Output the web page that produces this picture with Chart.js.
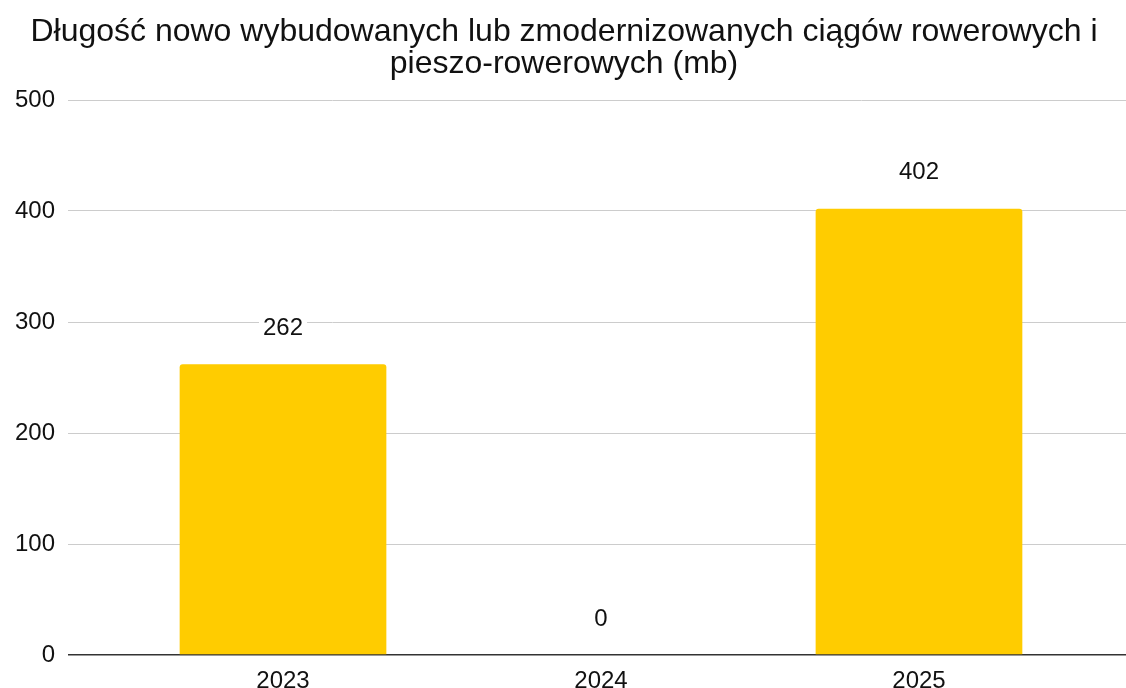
<!DOCTYPE html>
<html>
<head>
<meta charset="utf-8">
<script src="https://cdn.jsdelivr.net/npm/chart.js@4"></script>
<style>
  body { margin: 0; background: #fff; }
  canvas { display: block; }
</style>
</head>
<body>
<canvas id="chart" width="1126" height="688"></canvas>
<script>
// dane wykresu
const years = [2023, 2024, 2025];
const values = [262, 0, 402];
const yTicks = [0, 100, 200, 300, 400, 500];
const titleLines = [
    'Długość nowo wybudowanych lub zmodernizowanych ciągów rowerowych i',
    'pieszo-rowerowych (mb)'
];

const FONT = '"Liberation Sans", Arial, sans-serif';

// etykiety wartości nad słupkami (z białym tłem)
const valueLabels = {
    id: 'valueLabels',
    afterDatasetsDraw(chart) {
        const ctx = chart.ctx;
        const meta = chart.getDatasetMeta(0);
        ctx.save();
        ctx.font = '24px ' + FONT;
        ctx.textAlign = 'center';
        ctx.textBaseline = 'middle';
        meta.data.forEach((bar, i) => {
            const text = String(values[i]);
            const y = bar.y - 36;
            const w = ctx.measureText(text).width + 8;
            ctx.fillStyle = '#fff';
            ctx.fillRect(bar.x - w / 2, y - 13, w, 26);
            ctx.fillStyle = '#111';
            ctx.fillText(text, bar.x, y);
        });
        ctx.restore();
    }
};

new Chart(document.getElementById('chart'), {
    type: 'bar',
    data: {
        datasets: [{
            data: years.map((y, i) => ({ x: y, y: values[i] })),
            backgroundColor: '#FFCC00',
            borderRadius: { topLeft: 3, topRight: 3 },
            borderSkipped: 'bottom',
            barPercentage: 0.65,
            categoryPercentage: 1
        }]
    },
    options: {
        responsive: false,
        devicePixelRatio: 1,
        animation: false,
        layout: { padding: { left: 2, right: 0, top: 0, bottom: 0 } },
        plugins: {
            legend: { display: false },
            tooltip: { enabled: false },
            title: {
                display: true,
                text: titleLines,
                color: '#111',
                font: { family: FONT, size: 32, weight: 'normal', lineHeight: 1.0 },
                padding: { top: 16, bottom: 20 }
            }
        },
        scales: {
            x: {
                type: 'linear',
                offset: false,
                min: 2022.324,
                max: 2025.651,
                grid: { display: false },
                border: { display: false },
                afterFit: s => { s.height = 33; },
                ticks: {
                    stepSize: 1,
                    includeBounds: false,
                    autoSkip: false,
                    maxRotation: 0,
                    padding: 4,
                    color: '#111',
                    font: { family: FONT, size: 24 },
                    callback: v => (Number.isInteger(v) ? String(v) : '')
                }
            },
            y: {
                min: 0,
                max: 500,
                afterBuildTicks: axis => { axis.ticks = yTicks.map(v => ({ value: v })); },
                border: { display: false },
                grid: {
                    drawTicks: false,
                    color: c => (c.tick && c.tick.value === 0 ? '#333' : '#cccccc'),
                    lineWidth: c => (c.tick && c.tick.value === 0 ? 1.5 : 1)
                },
                ticks: {
                    padding: 13,
                    color: '#111',
                    font: { family: FONT, size: 24 }
                }
            }
        }
    },
    plugins: [valueLabels]
});
</script>
</body>
</html>
